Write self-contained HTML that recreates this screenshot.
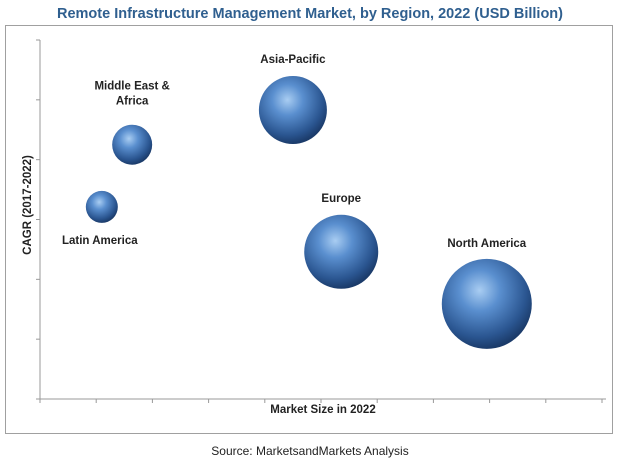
<!DOCTYPE html>
<html><head><meta charset="utf-8"><style>
body{margin:0;background:#fff;width:620px;height:462px;overflow:hidden;font-family:"Liberation Sans",sans-serif}
</style></head><body>
<svg width="620" height="462">
<defs>
<radialGradient id="g" cx="0.42" cy="0.35" r="0.65">
<stop offset="0" stop-color="#a9cdf2"/><stop offset="0.35" stop-color="#5a8fcf"/><stop offset="0.8" stop-color="#2a5590"/><stop offset="1" stop-color="#1b3b6a"/>
</radialGradient>
</defs>
<text x="310" y="18" text-anchor="middle" font-size="14.5" font-weight="bold" fill="#2f5f8f">Remote Infrastructure Management Market, by Region, 2022 (USD Billion)</text>
<rect x="5.5" y="25.5" width="607" height="408" fill="none" stroke="#a0a0a0"/>
<g id="axes"></g>
<g id="bubbles"></g>
<text x="323" y="413" text-anchor="middle" font-size="11.5" font-weight="bold" fill="#222">Market Size in 2022</text>
<text transform="translate(31,205) rotate(-90)" text-anchor="middle" font-size="11.5" font-weight="bold" fill="#222">CAGR (2017-2022)</text>
<text x="310" y="455" text-anchor="middle" font-size="12" fill="#222">Source: MarketsandMarkets Analysis</text>
</svg>
<script>
const regions=["Asia-Pacific","Middle East & Africa","Latin America","Europe","North America"];
const marketSize=[4.5,1.64,1.1,5.36,7.95];
const cagr=[4.83,4.25,3.21,2.46,1.59];
const bubbleSize=[34,20,16,37,45];
const xTicks=[0,1,2,3,4,5,6,7,8,9,10];
const yTicks=[0,1,2,3,4,5,6];
const NS="http://www.w3.org/2000/svg";
const X0=40,X1=602,Y0=399,Y1=40;
const xs=v=>X0+(X1-X0)*v/10, ys=v=>Y0-(Y0-Y1)*v/6;
function el(t,a,p){const e=document.createElementNS(NS,t);for(const k in a)e.setAttribute(k,a[k]);p.appendChild(e);return e;}
const ax=document.getElementById('axes');
const xl=el('line',{x1:X0,y1:Y0,x2:X1+4,y2:Y0,stroke:'#999'},ax);


const yl=el('line',{x1:X0,y1:Y0,x2:X0,y2:Y1,stroke:'#999'},ax);


xTicks.forEach(t=>{const l=el('line',{x1:xs(t),y1:Y0,x2:xs(t),y2:Y0+4,stroke:'#999'},ax);

});
yTicks.forEach(t=>{const l=el('line',{x1:X0-4,y1:ys(t),x2:X0,y2:ys(t),stroke:'#999'},ax);

});
const bg=document.getElementById('bubbles');
const labelOff=[[0,-47,1],[0,-55,2],[-2,37,1],[0,-50,1],[0,-57,1]];
regions.forEach((r,i)=>{
const cx=xs(marketSize[i]),cy=ys(cagr[i]),rad=bubbleSize[i];
const c=el('circle',{cx:cx,cy:cy,r:rad,fill:'url(#g)'},bg);


const o=labelOff[i];
const t=el('text',{x:cx+o[0],y:cy+o[1],'text-anchor':'middle','font-size':'11.5','font-weight':'bold',fill:'#222'},bg);


if(o[2]==2){const a=el('tspan',{x:cx+o[0]},t);a.textContent="Middle East &";const b=el('tspan',{x:cx+o[0],dy:15},t);b.textContent="Africa";}
else t.textContent=r;
});
</script>
</body></html>
